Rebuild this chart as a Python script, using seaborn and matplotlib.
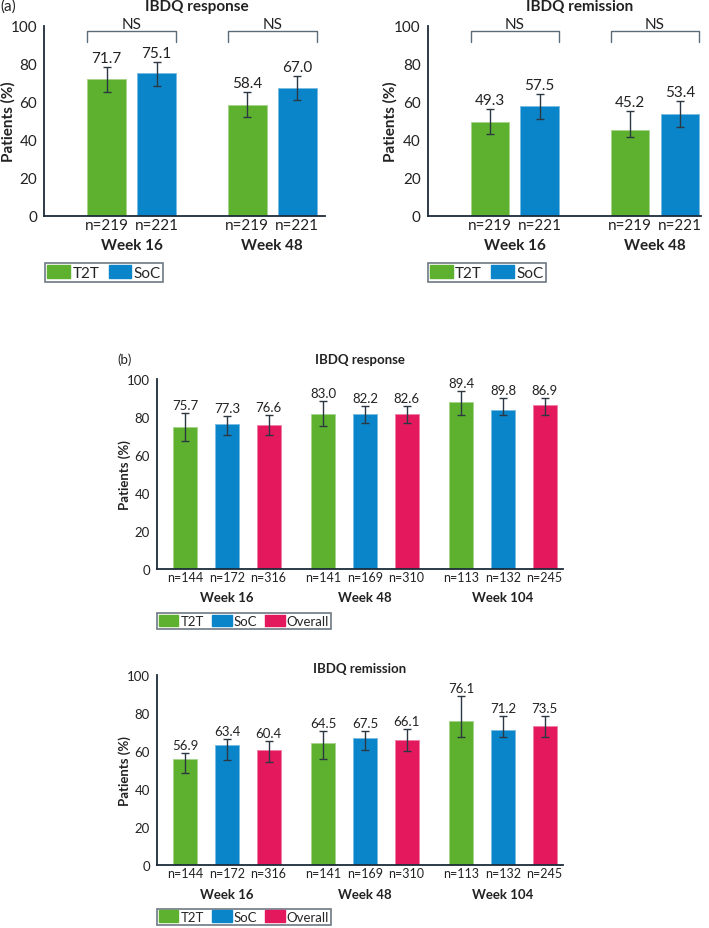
import pandas as pd
import matplotlib
matplotlib.use('Agg')
import matplotlib.pyplot as plt
import matplotlib.colors as mcolors
import seaborn as sns

sns.set_style('white')
plt.rcParams['font.family'] = ['Lato', 'DejaVu Sans']
FS_A = 11     # panel (a) text size
FS_B = 9.5    # panel (b) text size

# colours
colors = {'T2T': '#5DB12F', 'SoC': '#0B85C9', 'Overall': '#E4185D'}
axis_col = '#1C2B39'
err_col = '#2B3742'
txt_col = '#222222'

# ---- panel (a) data ----
weeks_a = ['Week 16', 'Week 48']
groups_a = ['T2T', 'SoC']
n_a = {'T2T': [219, 219], 'SoC': [221, 221]}

a_resp_vals = {'T2T': [71.7, 58.4], 'SoC': [75.1, 67.0]}
a_resp_lo = {'T2T': [65.0, 51.8], 'SoC': [68.4, 60.8]}
a_resp_hi = {'T2T': [78.1, 65.0], 'SoC': [80.9, 73.7]}

a_rem_vals = {'T2T': [49.3, 45.2], 'SoC': [57.5, 53.4]}
a_rem_lo = {'T2T': [42.8, 41.2], 'SoC': [50.7, 46.5]}
a_rem_hi = {'T2T': [56.1, 55.3], 'SoC': [64.0, 60.5]}

# ---- panel (b) data ----
weeks_b = ['Week 16', 'Week 48', 'Week 104']
groups_b = ['T2T', 'SoC', 'Overall']
n_b = {'T2T': [144, 141, 113], 'SoC': [172, 169, 132], 'Overall': [316, 310, 245]}

# printed values and bar heights as drawn in the figure
b_resp_vals = {'T2T': [75.7, 83.0, 89.4], 'SoC': [77.3, 82.2, 89.8], 'Overall': [76.6, 82.6, 86.9]}
b_resp_bars = {'T2T': [74.8, 81.9, 88.2], 'SoC': [76.6, 81.9, 83.8], 'Overall': [75.7, 81.9, 86.3]}
b_resp_lo = {'T2T': [67.3, 75.2, 81.3], 'SoC': [70.6, 76.8, 81.3], 'Overall': [70.6, 76.8, 81.3]}
b_resp_hi = {'T2T': [82.0, 88.4, 93.7], 'SoC': [80.5, 85.7, 90.1], 'Overall': [81.2, 85.7, 90.1]}

b_rem_vals = {'T2T': [56.9, 64.5, 76.1], 'SoC': [63.4, 67.5, 71.2], 'Overall': [60.4, 66.1, 73.5]}
b_rem_bars = {'T2T': [56.1, 64.2, 75.8], 'SoC': [63.3, 66.8, 71.4], 'Overall': [60.7, 66.0, 73.2]}
b_rem_lo = {'T2T': [48.4, 55.8, 67.4], 'SoC': [55.6, 60.9, 67.4], 'Overall': [54.6, 60.0, 67.4]}
b_rem_hi = {'T2T': [59.1, 70.5, 89.1], 'SoC': [66.3, 70.5, 78.6], 'Overall': [65.3, 71.6, 78.6]}


def lighter(c, f=0.45):
    r, g, b = mcolors.to_rgb(c)
    return (r + (1 - r) * f, g + (1 - g) * f, b + (1 - b) * f)


def draw_panel(ax, weeks, groups, vals, bars, lo, hi, n, width, gap, xlim, ylab_x,
               fs, fs_n, week_off, ns=False):
    rows = []
    for g in groups:
        for i, w in enumerate(weeks):
            rows.append({'week': w, 'group': g, 'pct': bars[g][i]})
    df = pd.DataFrame(rows)
    sns.barplot(data=df, x='week', y='pct', hue='group', hue_order=groups,
                order=weeks, palette=colors, saturation=1, width=width, gap=gap,
                errorbar=None, ax=ax, legend=True, linewidth=0)

    xt, xl = [], []
    for gi, g in enumerate(groups):
        cont = ax.containers[gi]
        for i, rect in enumerate(cont):
            rect.set_edgecolor(lighter(colors[g]))
            rect.set_linewidth(0.7)
            cx = rect.get_x() + rect.get_width() / 2
            h = rect.get_height()
            ax.errorbar(cx, h, yerr=[[h - lo[g][i]], [hi[g][i] - h]], fmt='none',
                        ecolor=err_col, elinewidth=1, capsize=3, capthick=1)
            ax.annotate(f'{vals[g][i]:.1f}', (cx, hi[g][i]), xytext=(0, 1.5),
                        textcoords='offset points', ha='center', va='bottom',
                        fontsize=fs, color=txt_col)
            xt.append(cx)
            xl.append(f'n={n[g][i]}')

    ax.set_xticks(xt)
    ax.set_xticklabels(xl, fontsize=fs_n, color=txt_col)
    ax.tick_params(axis='x', length=0, pad=1.5)
    for i, w in enumerate(weeks):
        ax.annotate(w, (i, 0), xycoords=('data', 'axes fraction'), xytext=(0, week_off),
                    textcoords='offset points', ha='center', va='center',
                    fontsize=fs, fontweight='bold', color=txt_col)

    if ns:
        for i in range(len(weeks)):
            rects = [ax.containers[gi][i] for gi in range(len(groups))]
            x0 = rects[0].get_x()
            x1 = rects[-1].get_x() + rects[-1].get_width()
            ax.plot([x0, x0, x1, x1], [91.5, 97, 97, 91.5], color='#5C6B78',
                    lw=1, clip_on=False)
            ax.text((x0 + x1) / 2, 101, 'NS', ha='center', va='center',
                    fontsize=fs, color=txt_col, clip_on=False)

    ax.set_xlim(*xlim)
    ax.set_ylim(0, 100)
    ax.set_yticks(range(0, 101, 20))
    ax.tick_params(axis='y', length=4, width=1, color=axis_col, labelsize=fs,
                   labelcolor=txt_col, pad=1)
    ax.set_xlabel('')
    ax.set_ylabel('Patients (%)', fontsize=fs, fontweight='bold', color=txt_col)
    ax.yaxis.label.set_va('center')
    ax.yaxis.set_label_coords(ylab_x, 0.5)
    sns.despine(ax=ax)
    for s in ['left', 'bottom']:
        ax.spines[s].set_color(axis_col)
        ax.spines[s].set_linewidth(1.3)
    ax.get_legend().remove()


fig = plt.figure(figsize=(7.09, 9.29), dpi=100)
W, H = 709, 929


def px_axes(x0, y0, x1, y1):
    return fig.add_axes([x0 / W, 1 - y1 / H, (x1 - x0) / W, (y1 - y0) / H])


ax1 = px_axes(44, 26.7, 325, 216.7)
ax2 = px_axes(427.7, 26.7, 701, 216.7)
ax3 = px_axes(156.7, 380.3, 562.7, 569.7)
ax4 = px_axes(156.7, 676.3, 562.7, 866.3)

draw_panel(ax1, weeks_a, groups_a, a_resp_vals, a_resp_vals, a_resp_lo, a_resp_hi,
           n_a, 0.711, 0.227, (-0.622, 1.375), (8 - 44) / 281, FS_A, FS_A, -21, ns=True)
draw_panel(ax2, weeks_a, groups_a, a_rem_vals, a_rem_vals, a_rem_lo, a_rem_hi,
           n_a, 0.711, 0.227, (-0.621, 1.328), (390.7 - 427.7) / 273.3, FS_A, FS_A, -21,
           ns=True)
draw_panel(ax3, weeks_b, groups_b, b_resp_vals, b_resp_bars, b_resp_lo, b_resp_hi,
           n_b, 0.906, 0.424, (-0.509, 2.433), (125 - 156.7) / 406, FS_B, 9, -20.5)
draw_panel(ax4, weeks_b, groups_b, b_rem_vals, b_rem_bars, b_rem_lo, b_rem_hi,
           n_b, 0.906, 0.424, (-0.509, 2.433), (125 - 156.7) / 406, FS_B, 9, -20.5)

# titles and panel letters
fig.text(197 / W, 1 - 7 / H, 'IBDQ response', ha='center', va='center',
         fontsize=FS_A, fontweight='bold', color=txt_col)
fig.text(580 / W, 1 - 7 / H, 'IBDQ remission', ha='center', va='center',
         fontsize=FS_A, fontweight='bold', color=txt_col)
fig.text(0, 1 - 7 / H, '(a)', ha='left', va='center', fontsize=FS_A, color=txt_col)
fig.text(117 / W, 1 - 360 / H, '(b)', ha='left', va='center', fontsize=FS_B, color=txt_col)
fig.text(360 / W, 1 - 360 / H, 'IBDQ response', ha='center', va='center',
         fontsize=FS_B, fontweight='bold', color=txt_col)
fig.text(360 / W, 1 - 669 / H, 'IBDQ remission', ha='center', va='center',
         fontsize=FS_B, fontweight='bold', color=txt_col)

# legends
for groups, anchor, fs in [(groups_a, (45, 264), FS_A), (groups_a, (427.7, 264), FS_A),
                           (groups_b, (156.7, 614), FS_B), (groups_b, (156.7, 909.5), FS_B)]:
    handles = [plt.Rectangle((0, 0), 1, 1, color=colors[g]) for g in groups]
    leg = fig.legend(handles, groups, loc='upper left',
                     bbox_to_anchor=(anchor[0] / W, 1 - anchor[1] / H),
                     ncol=len(groups), frameon=True, fancybox=False, fontsize=fs,
                     handlelength=1.5, handleheight=0.95, handletextpad=0.15,
                     columnspacing=0.6, borderpad=0.15, borderaxespad=0)
    leg.get_frame().set_edgecolor('#4A5763')
    leg.get_frame().set_linewidth(1.2)

fig.savefig('out.png', dpi=100)
